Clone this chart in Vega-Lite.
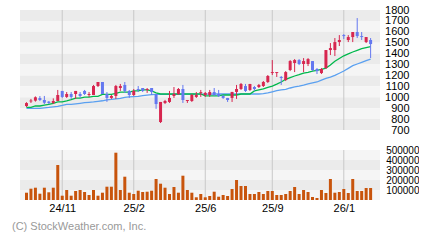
{
  "$schema": "https://vega.github.io/schema/vega-lite/v6.json",
  "padding": {"left": 12, "top": 4, "right": 0, "bottom": 0},
  "bounds": "flush",
  "spacing": 20,
  "config": {"view": {"stroke": null}, "font": "Liberation Sans"},
  "title": {"text": "(C) StockWeather.com, Inc.", "orient": "bottom", "anchor": "start", "font": "Liberation Sans", "fontSize": 11, "fontWeight": "normal", "color": "#999999", "offset": 8, "dx": -8},
  "datasets": {
    "pb": [{"lo":1700,"hi":1800},{"lo":1600,"hi":1700},{"lo":1500,"hi":1600},{"lo":1400,"hi":1500},{"lo":1300,"hi":1400},{"lo":1200,"hi":1300},{"lo":1100,"hi":1200},{"lo":1000,"hi":1100},{"lo":900,"hi":1000},{"lo":800,"hi":900},{"lo":700,"hi":800}],
    "vb": [{"lo":400000,"hi":500000},{"lo":300000,"hi":400000},{"lo":200000,"hi":300000},{"lo":100000,"hi":200000},{"lo":0,"hi":100000}],
    "grid": [{"i":9},{"i":25},{"i":41},{"i":56},{"i":72}],
    "k": [
      {"i":1,"o":920,"h":955,"l":910,"c":947,"v":73000,"m1":908,"m2":899},
      {"i":2,"o":962,"h":985,"l":948,"c":970,"v":113000,"m1":908,"m2":899},
      {"i":3,"o":969,"h":1008,"l":960,"c":1000,"v":123000,"m1":920,"m2":899},
      {"i":4,"o":993,"h":1011,"l":965,"c":975,"v":63000,"m1":920,"m2":899},
      {"i":5,"o":975,"h":1012,"l":938,"c":950,"v":123000,"m1":928,"m2":903},
      {"i":6,"o":960,"h":965,"l":938,"c":948,"v":77000,"m1":935,"m2":907},
      {"i":7,"o":948,"h":990,"l":938,"c":966,"v":123000,"m1":945,"m2":912},
      {"i":8,"o":966,"h":1067,"l":966,"c":1021,"v":350000,"m1":957,"m2":917},
      {"i":9,"o":1058,"h":1058,"l":994,"c":1003,"v":43000,"m1":957,"m2":925},
      {"i":10,"o":1003,"h":1048,"l":994,"c":1030,"v":100000,"m1":966,"m2":935},
      {"i":11,"o":1030,"h":1048,"l":985,"c":1003,"v":43000,"m1":978,"m2":935},
      {"i":12,"o":1030,"h":1058,"l":985,"c":1058,"v":90000,"m1":993,"m2":940},
      {"i":13,"o":1030,"h":1048,"l":994,"c":1012,"v":100000,"m1":993,"m2":945},
      {"i":14,"o":1058,"h":1067,"l":1021,"c":1030,"v":80000,"m1":1002,"m2":950},
      {"i":15,"o":1021,"h":1048,"l":1003,"c":1030,"v":50000,"m1":1002,"m2":954},
      {"i":16,"o":1021,"h":1113,"l":1021,"c":1103,"v":100000,"m1":1009,"m2":958},
      {"i":17,"o":1103,"h":1140,"l":1094,"c":1140,"v":43000,"m1":1009,"m2":963},
      {"i":18,"o":1140,"h":1140,"l":1030,"c":1030,"v":73000,"m1":1027,"m2":968},
      {"i":19,"o":1030,"h":1048,"l":958,"c":994,"v":133000,"m1":1027,"m2":976},
      {"i":20,"o":994,"h":1021,"l":985,"c":1012,"v":133000,"m1":1027,"m2":980},
      {"i":21,"o":1012,"h":1113,"l":985,"c":1103,"v":473000,"m1":1036,"m2":985},
      {"i":22,"o":1085,"h":1122,"l":1058,"c":1103,"v":100000,"m1":1048,"m2":990},
      {"i":23,"o":1113,"h":1140,"l":1040,"c":1058,"v":233000,"m1":1048,"m2":1000},
      {"i":24,"o":1058,"h":1067,"l":994,"c":1021,"v":73000,"m1":1048,"m2":1003},
      {"i":25,"o":1021,"h":1076,"l":1012,"c":1058,"v":60000,"m1":1058,"m2":1006},
      {"i":26,"o":1076,"h":1103,"l":1048,"c":1067,"v":93000,"m1":1058,"m2":1009},
      {"i":27,"o":1085,"h":1085,"l":1048,"c":1058,"v":80000,"m1":1067,"m2":1015},
      {"i":28,"o":1067,"h":1085,"l":1040,"c":1076,"v":83000,"m1":1067,"m2":1020},
      {"i":29,"o":1085,"h":1085,"l":1021,"c":1049,"v":93000,"m1":1058,"m2":1024},
      {"i":30,"o":1030,"h":1030,"l":894,"c":938,"v":210000,"m1":1040,"m2":1027},
      {"i":31,"o":773,"h":957,"l":764,"c":957,"v":163000,"m1":1030,"m2":1027},
      {"i":32,"o":948,"h":976,"l":938,"c":966,"v":123000,"m1":1030,"m2":1027},
      {"i":33,"o":957,"h":1058,"l":948,"c":994,"v":60000,"m1":1030,"m2":1027},
      {"i":34,"o":1012,"h":1094,"l":994,"c":1030,"v":130000,"m1":1030,"m2":1027},
      {"i":35,"o":1030,"h":1085,"l":1021,"c":1076,"v":73000,"m1":1030,"m2":1027},
      {"i":36,"o":1076,"h":1113,"l":948,"c":975,"v":243000,"m1":1030,"m2":1028},
      {"i":37,"o":966,"h":975,"l":948,"c":975,"v":100000,"m1":1030,"m2":1028},
      {"i":38,"o":966,"h":1030,"l":957,"c":1021,"v":73000,"m1":1030,"m2":1028},
      {"i":39,"o":1003,"h":1048,"l":994,"c":1021,"v":27000,"m1":1030,"m2":1028},
      {"i":40,"o":1040,"h":1067,"l":1003,"c":1048,"v":60000,"m1":1030,"m2":1029},
      {"i":41,"o":1021,"h":1048,"l":1003,"c":1040,"v":27000,"m1":1012,"m2":1029},
      {"i":42,"o":1021,"h":1067,"l":1003,"c":1048,"v":40000,"m1":1012,"m2":1029},
      {"i":43,"o":1048,"h":1085,"l":1012,"c":1021,"v":83000,"m1":1012,"m2":1030},
      {"i":44,"o":1030,"h":1067,"l":1003,"c":1012,"v":33000,"m1":1012,"m2":1030},
      {"i":45,"o":1012,"h":1021,"l":985,"c":994,"v":50000,"m1":1021,"m2":1030},
      {"i":46,"o":994,"h":994,"l":957,"c":975,"v":40000,"m1":1021,"m2":1030},
      {"i":47,"o":994,"h":1049,"l":957,"c":1049,"v":110000,"m1":1021,"m2":1030},
      {"i":48,"o":1049,"h":1113,"l":985,"c":1076,"v":200000,"m1":1021,"m2":1030},
      {"i":49,"o":1076,"h":1131,"l":1067,"c":1122,"v":140000,"m1":1030,"m2":1030},
      {"i":50,"o":1103,"h":1122,"l":1049,"c":1058,"v":140000,"m1":1030,"m2":1030},
      {"i":51,"o":1067,"h":1122,"l":1058,"c":1122,"v":60000,"m1":1030,"m2":1030},
      {"i":52,"o":1094,"h":1103,"l":1058,"c":1076,"v":60000,"m1":1058,"m2":1030},
      {"i":53,"o":1094,"h":1122,"l":1085,"c":1113,"v":80000,"m1":1067,"m2":1030},
      {"i":54,"o":1103,"h":1149,"l":1094,"c":1140,"v":60000,"m1":1076,"m2":1033},
      {"i":55,"o":1140,"h":1204,"l":1131,"c":1195,"v":90000,"m1":1090,"m2":1040},
      {"i":56,"o":1222,"h":1341,"l":1204,"c":1231,"v":90000,"m1":1103,"m2":1050},
      {"i":57,"o":1222,"h":1231,"l":1186,"c":1231,"v":50000,"m1":1120,"m2":1060},
      {"i":58,"o":1186,"h":1195,"l":1113,"c":1177,"v":50000,"m1":1140,"m2":1067},
      {"i":59,"o":1158,"h":1240,"l":1149,"c":1231,"v":60000,"m1":1165,"m2":1073},
      {"i":60,"o":1250,"h":1341,"l":1240,"c":1332,"v":90000,"m1":1180,"m2":1085},
      {"i":61,"o":1314,"h":1350,"l":1231,"c":1341,"v":130000,"m1":1195,"m2":1095},
      {"i":62,"o":1341,"h":1350,"l":1295,"c":1305,"v":60000,"m1":1207,"m2":1103},
      {"i":63,"o":1305,"h":1359,"l":1231,"c":1332,"v":100000,"m1":1222,"m2":1112},
      {"i":64,"o":1305,"h":1359,"l":1286,"c":1350,"v":80000,"m1":1228,"m2":1122},
      {"i":65,"o":1332,"h":1332,"l":1240,"c":1250,"v":30000,"m1":1240,"m2":1131},
      {"i":66,"o":1259,"h":1268,"l":1213,"c":1240,"v":20000,"m1":1246,"m2":1140},
      {"i":67,"o":1222,"h":1268,"l":1213,"c":1259,"v":100000,"m1":1255,"m2":1158},
      {"i":68,"o":1268,"h":1433,"l":1259,"c":1433,"v":70000,"m1":1268,"m2":1174},
      {"i":69,"o":1433,"h":1497,"l":1387,"c":1451,"v":210000,"m1":1296,"m2":1185},
      {"i":70,"o":1433,"h":1543,"l":1378,"c":1506,"v":73000,"m1":1330,"m2":1200},
      {"i":71,"o":1506,"h":1570,"l":1470,"c":1525,"v":80000,"m1":1355,"m2":1220},
      {"i":72,"o":1570,"h":1579,"l":1534,"c":1561,"v":110000,"m1":1380,"m2":1241},
      {"i":73,"o":1525,"h":1570,"l":1506,"c":1552,"v":70000,"m1":1398,"m2":1265},
      {"i":74,"o":1552,"h":1598,"l":1506,"c":1598,"v":210000,"m1":1415,"m2":1290},
      {"i":75,"o":1598,"h":1726,"l":1543,"c":1561,"v":90000,"m1":1430,"m2":1305},
      {"i":76,"o":1561,"h":1598,"l":1525,"c":1552,"v":90000,"m1":1445,"m2":1320},
      {"i":77,"o":1506,"h":1552,"l":1497,"c":1552,"v":120000,"m1":1455,"m2":1335},
      {"i":78,"o":1525,"h":1543,"l":1360,"c":1488,"v":120000,"m1":1465,"m2":1350}
    ]
  },
  "vconcat": [
    {
      "width": 360,
      "height": 120,
      "encoding": {
        "x": {"field": "i", "type": "quantitative", "scale": {"domain": [0.67, 78.98], "nice": false, "zero": false}, "axis": null}
      },
      "layer": [
        {
          "data": {"name": "pb"},
          "mark": {"type": "rect"},
          "encoding": {
            "x": null,
            "y": {"field": "lo", "type": "quantitative", "title": null, "scale": {"domain": [700, 1800], "nice": false, "zero": false},
              "axis": {"orient": "right", "values": [700,800,900,1000,1100,1200,1300,1400,1500,1600,1700,1800], "format": "d", "labelAlign": "right", "labelPadding": 29, "ticks": false, "tickSize": 0, "domain": false, "grid": false, "labelOverlap": false, "labelBound": false, "title": null, "labelFontSize": 11, "labelColor": "#000000", "labelFont": "Liberation Sans"}},
            "y2": {"field": "hi"},
            "color": {"condition": {"test": "datum.hi % 200 == 0", "value": "#ebebeb"}, "value": "#f5f5f5"}
          }
        },
        {
          "data": {"name": "grid"},
          "mark": {"type": "rule", "color": "#c8c8c8", "strokeWidth": 1},
          "encoding": {}
        },
        {
          "data": {"name": "k"},
          "layer": [
            {"mark": {"type": "line", "color": "#5aa0f0", "strokeWidth": 1.3},
             "encoding": {"y": {"field": "m2", "type": "quantitative", "title": null, "scale": {"domain": [700, 1800], "nice": false, "zero": false},
              "axis": {"orient": "right", "values": [700,800,900,1000,1100,1200,1300,1400,1500,1600,1700,1800], "format": "d", "labelAlign": "right", "labelPadding": 29, "ticks": false, "tickSize": 0, "domain": false, "grid": false, "labelOverlap": false, "labelBound": false, "title": null, "labelFontSize": 11, "labelColor": "#000000", "labelFont": "Liberation Sans"}}}},
            {"mark": {"type": "line", "color": "#00b84c", "strokeWidth": 1.3},
             "encoding": {"y": {"field": "m1", "type": "quantitative", "title": null, "scale": {"domain": [700, 1800], "nice": false, "zero": false},
              "axis": {"orient": "right", "values": [700,800,900,1000,1100,1200,1300,1400,1500,1600,1700,1800], "format": "d", "labelAlign": "right", "labelPadding": 29, "ticks": false, "tickSize": 0, "domain": false, "grid": false, "labelOverlap": false, "labelBound": false, "title": null, "labelFontSize": 11, "labelColor": "#000000", "labelFont": "Liberation Sans"}}}},
            {"mark": {"type": "rule", "strokeWidth": 1},
             "encoding": {
               "y": {"field": "l", "type": "quantitative", "title": null, "scale": {"domain": [700, 1800], "nice": false, "zero": false},
              "axis": {"orient": "right", "values": [700,800,900,1000,1100,1200,1300,1400,1500,1600,1700,1800], "format": "d", "labelAlign": "right", "labelPadding": 29, "ticks": false, "tickSize": 0, "domain": false, "grid": false, "labelOverlap": false, "labelBound": false, "title": null, "labelFontSize": 11, "labelColor": "#000000", "labelFont": "Liberation Sans"}},
               "y2": {"field": "h"},
               "color": {"condition": {"test": "datum.c >= datum.o", "value": "#d7264f"}, "value": "#6478f0"}}},
            {"mark": {"type": "bar", "size": 3},
             "encoding": {
               "y": {"field": "o", "type": "quantitative", "title": null, "scale": {"domain": [700, 1800], "nice": false, "zero": false},
              "axis": {"orient": "right", "values": [700,800,900,1000,1100,1200,1300,1400,1500,1600,1700,1800], "format": "d", "labelAlign": "right", "labelPadding": 29, "ticks": false, "tickSize": 0, "domain": false, "grid": false, "labelOverlap": false, "labelBound": false, "title": null, "labelFontSize": 11, "labelColor": "#000000", "labelFont": "Liberation Sans"}},
               "y2": {"field": "c"},
               "color": {"condition": {"test": "datum.c >= datum.o", "value": "#d7264f"}, "value": "#6478f0"}}}
          ]
        }
      ]
    },
    {
      "width": 360,
      "height": 50,
      "encoding": {
        "x": {"field": "i", "type": "quantitative", "scale": {"domain": [0.67, 78.98], "nice": false, "zero": false},
          "axis": {"orient": "bottom", "values": [9,25,41,56,72], "labelExpr": "datum.value == 9 ? '24/11' : datum.value == 25 ? '25/2' : datum.value == 41 ? '25/6' : datum.value == 56 ? '25/9' : '26/1'", "ticks": false, "tickSize": 0, "domain": false, "grid": false, "labelPadding": 2, "labelFontSize": 11, "labelColor": "#000000", "labelFont": "Liberation Sans", "title": null, "labelFlush": false, "labelOverlap": false, "labelBound": false}}
      },
      "layer": [
        {
          "data": {"name": "vb"},
          "mark": {"type": "rect"},
          "encoding": {
            "x": null,
            "y": {"field": "lo", "type": "quantitative", "title": null, "scale": {"domain": [0, 500000], "nice": false},
              "axis": {"orient": "right", "values": [100000,200000,300000,400000,500000], "format": "d", "labelAlign": "right", "labelPadding": 39, "ticks": false, "tickSize": 0, "domain": false, "grid": false, "labelOverlap": false, "labelBound": false, "title": null, "labelFontSize": 10, "labelColor": "#000000", "labelFont": "Liberation Sans"}},
            "y2": {"field": "hi"},
            "color": {"condition": {"test": "datum.hi % 200000 == 0", "value": "#ebebeb"}, "value": "#f5f5f5"}
          }
        },
        {
          "data": {"name": "grid"},
          "mark": {"type": "rule", "color": "#c8c8c8", "strokeWidth": 1},
          "encoding": {}
        },
        {
          "data": {"name": "k"},
          "mark": {"type": "bar", "size": 3, "color": "#c8540c"},
          "encoding": {
            "y": {"field": "v", "type": "quantitative", "title": null, "scale": {"domain": [0, 500000], "nice": false},
              "axis": {"orient": "right", "values": [100000,200000,300000,400000,500000], "format": "d", "labelAlign": "right", "labelPadding": 39, "ticks": false, "tickSize": 0, "domain": false, "grid": false, "labelOverlap": false, "labelBound": false, "title": null, "labelFontSize": 10, "labelColor": "#000000", "labelFont": "Liberation Sans"}}
          }
        }
      ]
    }
  ]
}
